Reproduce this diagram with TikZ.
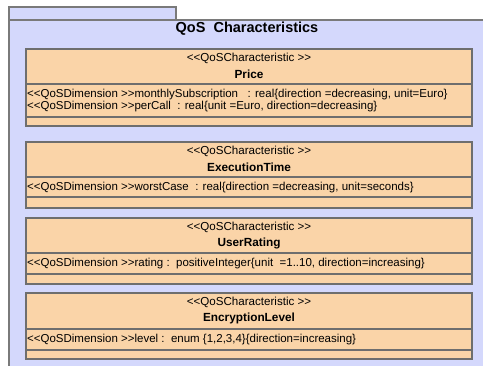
\documentclass[tikz,border=0pt]{standalone}
\usepackage{fontspec}
\setmainfont{Liberation Sans}
\definecolor{pkgfill}{HTML}{D4D8FC}
\definecolor{pkgline}{HTML}{7A7A7A}
\definecolor{clsfill}{HTML}{FAD4A8}
\definecolor{clsline}{HTML}{6E6E6E}
% guillemet-like pairs kept as two plain characters
\newcommand\dlt{<\kern0pt<}
\newcommand\dgt{>\kern0pt>}
% one UML class box: id, name, top, name/attr line, attr/op line, bottom
\newcommand\umlclass[6]{%
  \draw[cls] (26,#3) rectangle (472,#6);
  \draw[sep] (26,#4) -- (472,#4);
  \draw[sep] (26,#5) -- (472,#5);
  \node[stereo] (#1-st) at (249,#3+9.5) {\dlt QoSCharacteristic \dgt};
  \node[cname] (#1-nm) at (249,#3+25) {#2};
}
\begin{document}
\begin{tikzpicture}[x=1pt,y=-1pt,
  pkg/.style={fill=pkgfill,draw=pkgline,line width=1.3pt},
  cls/.style={fill=clsfill,draw=clsline,line width=1.6pt},
  sep/.style={draw=clsline,line width=1.2pt},
  stereo/.style={font=\fontsize{11.6}{13}\selectfont,inner sep=0pt},
  cname/.style={font=\fontsize{11.8}{14}\selectfont\bfseries,inner sep=0pt},
  attr/.style={font=\fontsize{11.5}{13}\selectfont,inner sep=0pt,anchor=west}]
\useasboundingbox (0,0) rectangle (483,366);
\begin{scope}
  \clip (0,0) rectangle (483,366);
  \draw[pkg] (9,7) rectangle (176,20);
  \draw[pkg] (9,20) rectangle (495,380);
\end{scope}
\node[font=\fontsize{14.5}{17}\selectfont\bfseries,inner sep=0pt] (title) at (247,28.5) {QoS\ \ Characteristics};

\umlclass{price}{Price}{49}{84}{117}{126}
\node[attr] (price-a1) at (27,95) {\dlt QoSDimension \dgt monthlySubscription\ \ \ : real\{direction =decreasing, unit=Euro\}};
\node[attr] (price-a2) at (27,107) {\dlt QoSDimension \dgt perCall\ \ : real\{unit =Euro, direction=decreasing\}};

\umlclass{exec}{ExecutionTime}{142}{177}{197}{208}
\node[attr] (exec-a1) at (27,187.5) {\dlt QoSDimension \dgt worstCase\ \ : real\{direction =decreasing, unit=seconds\}};

\umlclass{rating}{UserRating}{218}{253}{274}{284}
\node[attr] (rating-a1) at (27,263.5) {\dlt QoSDimension \dgt rating :\ \ positiveInteger\{unit\ \ =1..10, direction=increasing\}};

\umlclass{enc}{EncryptionLevel}{293}{329}{350}{359}
\node[attr] (enc-a1) at (27,339.5) {\dlt QoSDimension \dgt level :\ \ enum \{1,2,3,4\}\{direction=increasing\}};
\end{tikzpicture}
\end{document}
